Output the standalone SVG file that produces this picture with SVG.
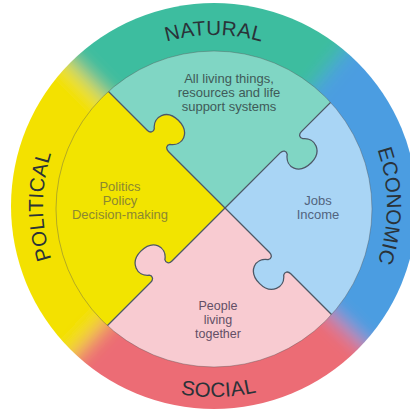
<svg xmlns="http://www.w3.org/2000/svg" width="410" height="410" viewBox="0 0 410 410">
<style>
.lbl{font-family:"Liberation Sans",Arial,sans-serif;font-size:20.5px;fill:#2a3238;letter-spacing:0.3px}
.t{font-family:"Liberation Sans",Arial,sans-serif;font-size:13px;text-anchor:middle}
.edge{fill:none;stroke:#4d5866;stroke-width:1.3;stroke-linejoin:round}
</style>
<defs>
<clipPath id="outer"><circle cx="214" cy="206" r="203"/></clipPath>
<clipPath id="inner"><circle cx="214" cy="209" r="158"/></clipPath>
<filter id="blur" x="-10%" y="-10%" width="120%" height="120%"><feGaussianBlur stdDeviation="10"/></filter>
<path id="tabNW" d="M80 -2 V0 c4 0 6 3 4 6 c-11 8 -6 23 11 23 c16 0 21 -15 11 -23 c-2 -3 0 -6 4 -6 V-2 Z"/>
<path id="tabNE" d="M78 -2 V0 c4 0 6 3 4 6 c-11 8 -6 23 11 23 c16 0 21 -15 11 -23 c-2 -3 0 -6 4 -6 V-2 Z"/>
<path id="tabSE" d="M63 -2 V0 c4 0 6 3 4 6 c-11 8 -6 23 11 23 c16 0 21 -15 11 -23 c-2 -3 0 -6 4 -6 V-2 Z"/>
<path id="tabSW" d="M75 -2 V0 c4 0 6 3 4 6 c-11 8 -6 23 11 23 c16 0 21 -15 11 -23 c-2 -3 0 -6 4 -6 V-2 Z"/>
<mask id="mBlue" maskUnits="userSpaceOnUse" x="0" y="0" width="410" height="410">
<rect width="410" height="410" fill="#fff"/>
<use href="#tabNE" transform="translate(225,208) rotate(-45)" fill="#000"/>
</mask>
<path id="pNat" d="M43 206 A171 171 0 0 1 385 206"/>
<path id="pEco" d="M214 33 A173 173 0 0 1 214 379"/>
<path id="pPol" d="M214 377 A171 171 0 0 1 214 35"/>
<path id="pSoc" d="M23 206 A191 191 0 0 0 405 206"/>
</defs>
<rect width="410" height="410" fill="#fff"/>
<g id="ring" clip-path="url(#outer)">
<g filter="url(#blur)">
<polygon points="214,206 -69,-77 471,-100" fill="#3ebd9f"/>
<polygon points="214,206 471,-100 506,479" fill="#4b9de1"/>
<polygon points="214,206 506,479 -59,498" fill="#ec6c75"/>
<polygon points="214,206 -59,498 -69,-77" fill="#f3e100"/>
</g>
</g>
<g id="ring-labels">
<text class="lbl"><textPath href="#pNat" startOffset="50%" text-anchor="middle">NATURAL</textPath></text>
<text class="lbl"><textPath href="#pEco" startOffset="50%" text-anchor="middle">ECONOMIC</textPath></text>
<text class="lbl"><textPath href="#pPol" startOffset="50%" text-anchor="middle">POLITICAL</textPath></text>
<text class="lbl"><textPath href="#pSoc" startOffset="50.8%" text-anchor="middle">SOCIAL</textPath></text>
</g>
<g clip-path="url(#inner)">
<g id="natural">
<polygon points="225,208 -75,-92 525,-92" fill="#80d6c4"/>
<use href="#tabNE" transform="translate(225,208) rotate(-45)" fill="#80d6c4"/>
</g>
<g id="political">
<polygon points="225,208 -75,508 -75,-92" fill="#f2e400"/>
<use href="#tabNW" transform="translate(225,208) rotate(-135)" fill="#f2e400"/>
</g>
<g id="social">
<polygon points="225,208 525,508 -75,508" fill="#f8cbd1"/>
<use href="#tabSW" transform="translate(225,208) rotate(135)" fill="#f8cbd1"/>
</g>
<g id="economic">
<polygon points="225,208 525,-92 525,508" fill="#a9d5f5" mask="url(#mBlue)"/>
<use href="#tabSE" transform="translate(225,208) rotate(45)" fill="#a9d5f5"/>
</g>
<g id="connectors">
<path class="edge" transform="translate(225,208) rotate(-135)" d="M0 0 H80 c4 0 6 3 4 6 c-11 8 -6 23 11 23 c16 0 21 -15 11 -23 c-2 -3 0 -6 4 -6 H240"/>
<path class="edge" transform="translate(225,208) rotate(-45)" d="M0 0 H78 c4 0 6 3 4 6 c-11 8 -6 23 11 23 c16 0 21 -15 11 -23 c-2 -3 0 -6 4 -6 H240"/>
<path class="edge" transform="translate(225,208) rotate(45)" d="M0 0 H63 c4 0 6 3 4 6 c-11 8 -6 23 11 23 c16 0 21 -15 11 -23 c-2 -3 0 -6 4 -6 H240"/>
<path class="edge" transform="translate(225,208) rotate(135)" d="M0 0 H75 c4 0 6 3 4 6 c-11 8 -6 23 11 23 c16 0 21 -15 11 -23 c-2 -3 0 -6 4 -6 H240"/>
</g>
</g>
<circle cx="214" cy="209" r="158" fill="none" stroke="#555" stroke-opacity="0.4" stroke-width="1"/>
<g id="texts">
<text class="t" fill="#3f5a58"><tspan x="229" y="83">All living things,</tspan><tspan x="229" y="97">resources and life</tspan><tspan x="229" y="111">support systems</tspan></text>
<text class="t" fill="#8c8830"><tspan x="120" y="191">Politics</tspan><tspan x="120" y="205">Policy</tspan><tspan x="120" y="219">Decision-making</tspan></text>
<text class="t" fill="#52647e"><tspan x="318" y="205">Jobs</tspan><tspan x="318" y="219">Income</tspan></text>
<text class="t" fill="#634f66" style="font-size:12.5px"><tspan x="218" y="310">People</tspan><tspan x="218" y="324">living</tspan><tspan x="218" y="338">together</tspan></text>
</g>
</svg>
